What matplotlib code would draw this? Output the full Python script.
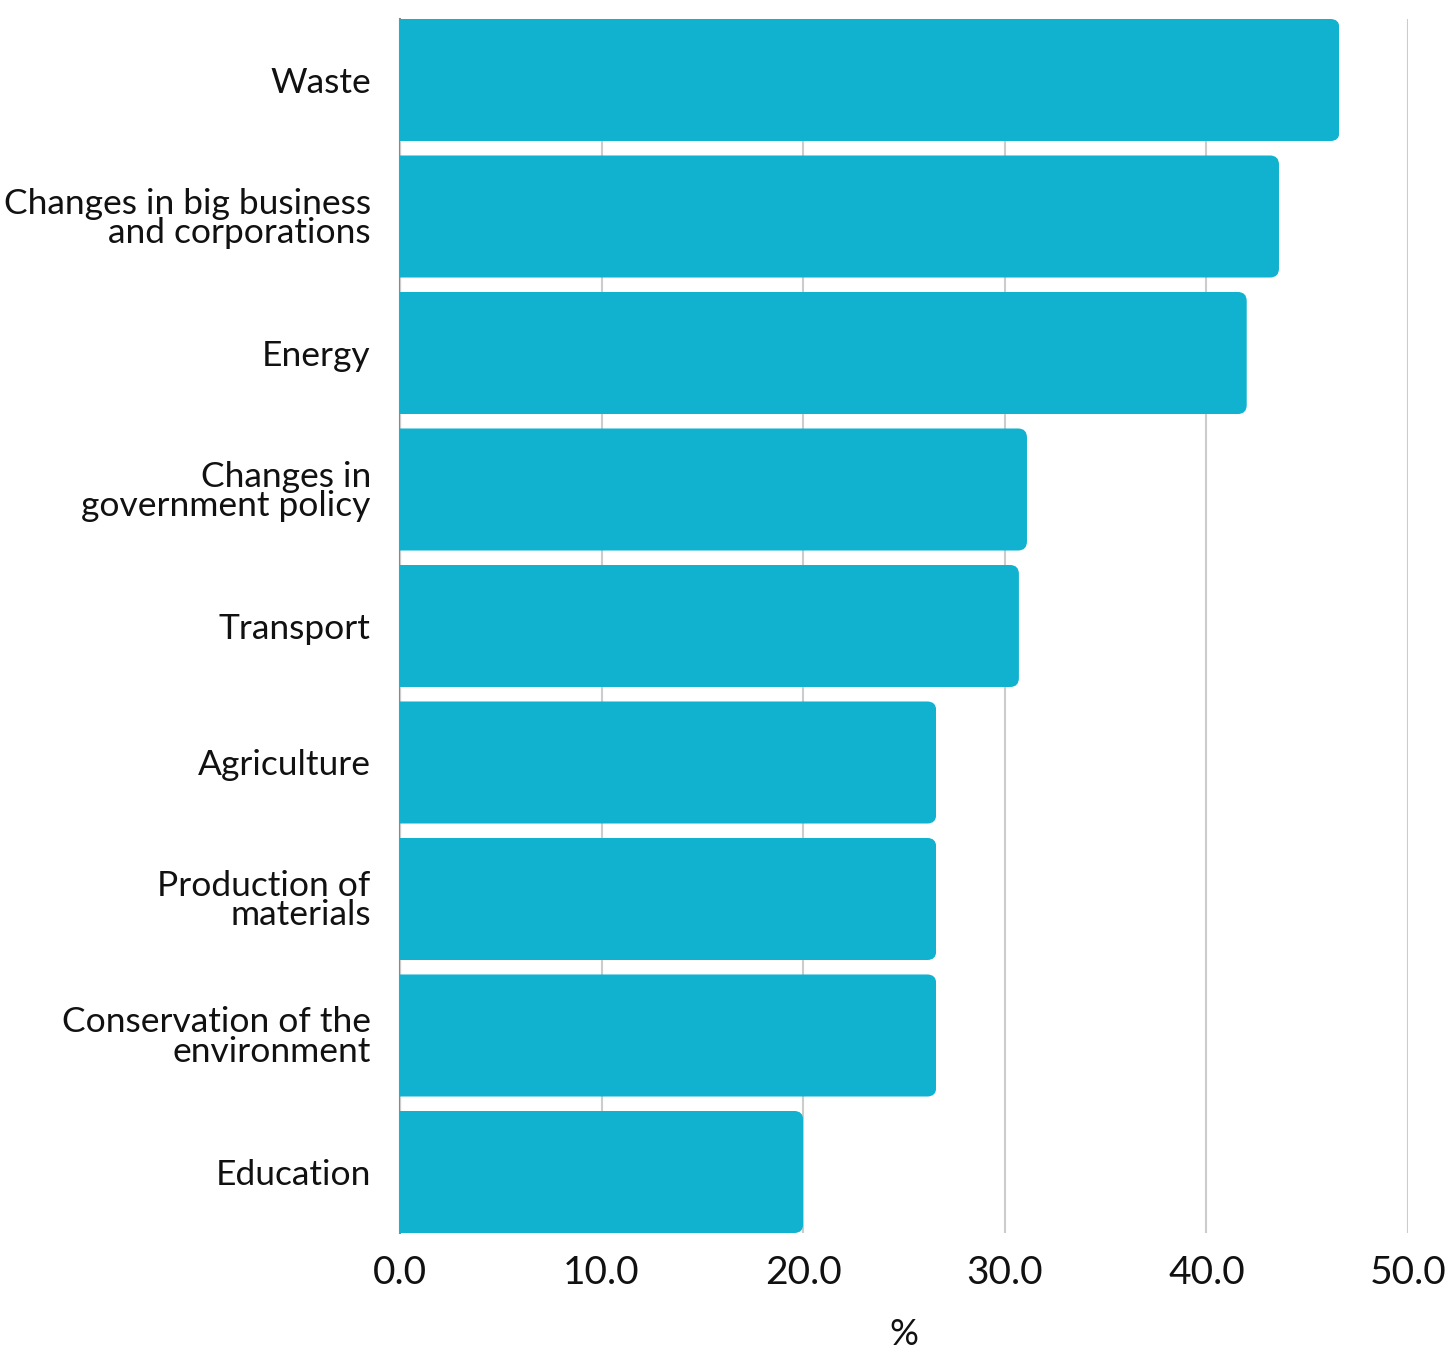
import matplotlib
matplotlib.use("Agg")
import matplotlib.pyplot as plt
from matplotlib.patches import FancyBboxPatch

plt.rcParams['font.family'] = ['Lato', 'DejaVu Sans']

categories = [
    "Waste",
    "Changes in big business\nand corporations",
    "Energy",
    "Changes in\ngovernment policy",
    "Transport",
    "Agriculture",
    "Production of\nmaterials",
    "Conservation of the\nenvironment",
    "Education",
]
values = [46.6, 43.6, 42.0, 31.1, 30.7, 26.6, 26.6, 26.6, 20.0]
x_ticks = [0, 10, 20, 30, 40, 50]
x_label = "%"

bar_color = "#11B2CF"
W, H, DPI = 1452, 1354, 100

fig = plt.figure(figsize=(W / DPI, H / DPI), dpi=DPI)
ax = fig.add_axes([400 / W, 1 - 1233 / H, (1408 - 400) / W, (1233 - 19) / H])

height = 0.894
ypos = list(range(len(categories)))
bars = ax.barh(ypos, values, height=height, color=bar_color, zorder=3)

ax.set_xlim(0, 50)
ax.set_ylim(len(categories) - 1 + height / 2, -height / 2)

# round the right-hand corners of each bar
fig.canvas.draw()
px_per_x = ax.transData.transform((1, 0))[0] - ax.transData.transform((0, 0))[0]
px_per_y = abs(ax.transData.transform((0, 1))[1] - ax.transData.transform((0, 0))[1])
radius_px = 9
r_x = radius_px / px_per_x
aspect = (radius_px / px_per_y) / r_x
for b in bars:
    x0, y0 = b.get_x(), b.get_y()
    w, h = b.get_width(), b.get_height()
    clip = FancyBboxPatch((x0 - 2, y0), w + 2, h,
                          boxstyle=f"round,pad=0,rounding_size={r_x}",
                          mutation_aspect=aspect, transform=ax.transData)
    b.set_clip_path(clip)

ax.set_xticks(x_ticks)
ax.set_xticklabels([f"{t:.1f}" for t in x_ticks])
ax.set_yticks(ypos)
ax.set_yticklabels(categories, linespacing=0.9)

ax.grid(axis='x', color='#cccccc', linewidth=1.5, zorder=0)
ax.grid(axis='y', visible=False)
for s in ['top', 'right', 'bottom']:
    ax.spines[s].set_visible(False)
ax.spines['left'].set_color('#888888')
ax.spines['left'].set_linewidth(1.5)
ax.spines['left'].set_zorder(1)

ax.tick_params(axis='x', length=0, pad=16, labelsize=28, labelcolor='#111111')
ax.tick_params(axis='y', length=0, pad=21, labelsize=25.5, labelcolor='#111111')
ax.set_xlabel(x_label, fontsize=26, labelpad=19, color='#111111')

fig.savefig("out.png", dpi=DPI, facecolor='white')
